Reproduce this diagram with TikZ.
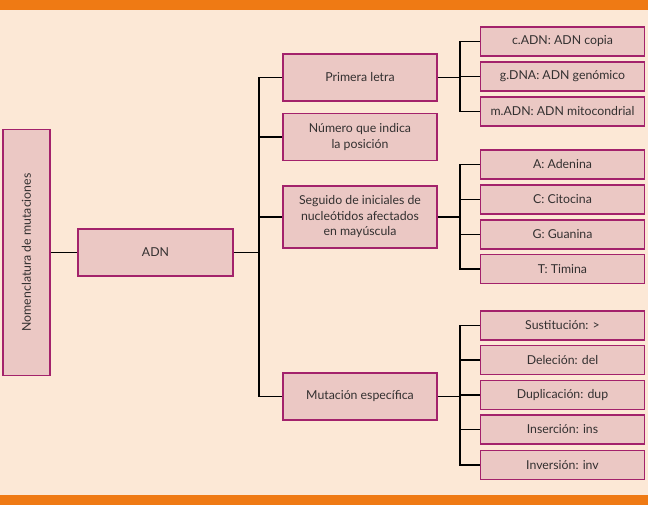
\documentclass[tikz,border=0pt]{standalone}
\usepackage{fontspec}
\setmainfont{Lato}
\definecolor{bgc}{HTML}{FCE8D6}
\definecolor{barc}{HTML}{EF7A14}
\definecolor{boxf}{HTML}{EBC8C4}
\definecolor{boxd}{HTML}{A3226B}
\definecolor{txt}{HTML}{333030}
\begin{document}
\begin{tikzpicture}[x=1pt,y=-1pt,
  box/.style={draw=boxd,fill=boxf,line width=1.8pt,rectangle,inner sep=2pt,
    text=txt,font=\fontsize{12.3}{15.5}\selectfont,align=center},
  leaf/.style={box,minimum width=164pt,minimum height=29pt},
  mid/.style={box,minimum width=154pt,minimum height=47pt},
  link/.style={draw=black,line width=1.6pt}]
\fill[bgc] (0,0) rectangle (648,505);
\fill[barc] (0,0) rectangle (648,10);
\fill[barc] (0,495) rectangle (648,505);
\node[box,minimum width=47pt,minimum height=246pt] (nom) at (26.5,252.5) {};
\node[txt,rotate=90,font=\fontsize{12.3}{15.5}\selectfont] (nomt) at (nom.center) {Nomenclatura de mutaciones};
\node[box,minimum width=155pt,minimum height=47pt] (adn) at (155.5,252.5) {ADN};
\node[mid] (prim) at (360,77.5) {Primera letra};
\node[mid] (num) at (360,137) {Número que indica\\la posición};
\node[mid,minimum height=62pt] (seg) at (360,217) {Seguido de iniciales de\\nucleótidos afectados\\en mayúscula};
\node[mid] (mut) at (360,396.5) {Mutación específica};
\node[leaf] (c) at (562.5,41.5) {c.ADN: ADN copia};
\node[leaf] (g) at (562.5,76.5) {g.DNA: ADN genómico};
\node[leaf] (m) at (562.5,111.5) {m.ADN: ADN mitocondrial};
\node[leaf] (A) at (562.5,164.5) {A: Adenina};
\node[leaf] (C) at (562.5,199.5) {C: Citocina};
\node[leaf] (G) at (562.5,234.5) {G: Guanina};
\node[leaf] (T) at (562.5,269) {T: Timina};
\node[leaf] (S) at (562.5,325.5) {Sustitución: >};
\node[leaf] (D) at (562.5,360) {Deleción: del};
\node[leaf] (Du) at (562.5,395) {Duplicación: dup};
\node[leaf] (I) at (562.5,429.5) {Inserción: ins};
\node[leaf] (Iv) at (562.5,465) {Inversión: inv};
\coordinate (t) at (259,252.5);
\coordinate (b1) at (460,77.5);
\coordinate (b2) at (460,217);
\coordinate (b3) at (460,396.5);
\draw[link] (nom.east) -- (adn.west);
\draw[link] (adn.east) -- (t);
\draw[link] (prim.west) -| (t) |- (mut.west);
\draw[link] (t|-num.west) -- (num.west);
\draw[link] (t|-seg.west) -- (seg.west);
\draw[link] (prim.east) -- (b1);
\draw[link] (c.west) -| (b1) |- (m.west);
\draw[link] (b1|-g.west) -- (g.west);
\draw[link] (seg.east) -- (b2);
\draw[link] (A.west) -| (b2) |- (T.west);
\draw[link] (b2|-C.west) -- (C.west);
\draw[link] (b2|-G.west) -- (G.west);
\draw[link] (mut.east) -- (b3);
\draw[link] (S.west) -| (b3) |- (Iv.west);
\draw[link] (b3|-D.west) -- (D.west);
\draw[link] (b3|-Du.west) -- (Du.west);
\draw[link] (b3|-I.west) -- (I.west);
\end{tikzpicture}
\end{document}
